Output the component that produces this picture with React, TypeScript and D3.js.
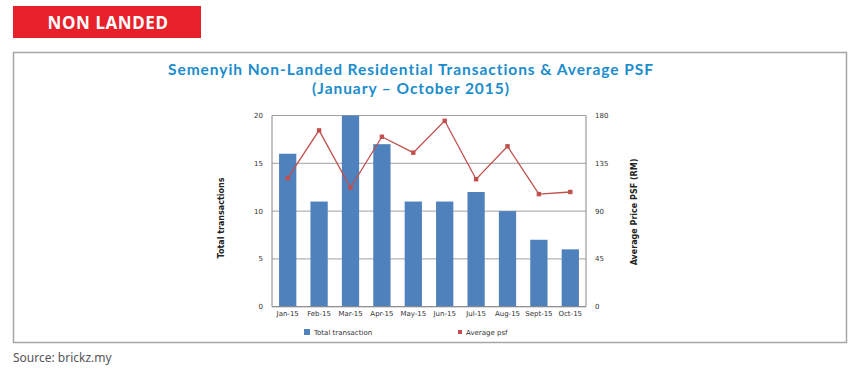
import React, { useEffect, useRef } from "react";
import * as d3 from "d3";

const months = ["Jan-15", "Feb-15", "Mar-15", "Apr-15", "May-15", "Jun-15", "Jul-15", "Aug-15", "Sept-15", "Oct-15"];
const transactions = [16, 11, 20, 17, 11, 11, 12, 10, 7, 6];
const avgPsf = [121, 166, 112, 160, 145, 175, 120, 151, 106, 108];
const leftTicks = [0, 5, 10, 15, 20];
const rightTicks = [0, 45, 90, 135, 180];

const W = 860;
const H = 370;
const plot = { left: 272, right: 586, top: 115.5, bottom: 306.7 };

export default function App() {
  const ref = useRef<SVGSVGElement>(null);

  useEffect(() => {
    const svg = d3.select(ref.current);
    svg.selectAll("*").remove();

    // banner
    svg.append("rect").attr("x", 13).attr("y", 6).attr("width", 188).attr("height", 32).attr("fill", "#e8202a");
    svg.append("text")
      .attr("x", 108).attr("y", 29)
      .attr("text-anchor", "middle")
      .attr("fill", "#fff")
      .style("font", "bold 17px 'Noto Sans', sans-serif")
      .style("letter-spacing", "0.6px")
      .text("NON LANDED");

    // chart frame
    svg.append("rect")
      .attr("x", 13.5).attr("y", 52.5).attr("width", 833).attr("height", 290)
      .attr("fill", "#fff").attr("stroke", "#a6a6a6").attr("stroke-width", 1.5);

    const titleStyle = "bold 15.5px Lato, 'Noto Sans', sans-serif";
    svg.append("text")
      .attr("x", 411).attr("y", 75)
      .attr("text-anchor", "middle")
      .attr("fill", "#1b8ccc")
      .style("font", titleStyle)
      .style("letter-spacing", "0.95px")
      .text("Semenyih Non-Landed Residential Transactions & Average PSF");
    svg.append("text")
      .attr("x", 411).attr("y", 94)
      .attr("text-anchor", "middle")
      .attr("fill", "#1b8ccc")
      .style("font", titleStyle)
      .style("letter-spacing", "0.95px")
      .text("(January \u2013 October 2015)");

    const x = d3.scaleBand().domain(months).range([plot.left, plot.right]).paddingInner(0.45).paddingOuter(0.225);
    const yL = d3.scaleLinear().domain([0, 20]).range([plot.bottom, plot.top]);
    const yR = d3.scaleLinear().domain([0, 180]).range([plot.bottom, plot.top]);

    const g = svg.append("g");

    // gridlines
    g.selectAll("line.grid")
      .data(leftTicks)
      .join("line")
      .attr("class", "grid")
      .attr("x1", plot.left).attr("x2", plot.right)
      .attr("y1", d => yL(d)).attr("y2", d => yL(d))
      .attr("stroke", "#a0a0a0").attr("stroke-width", 1);

    // bars
    g.selectAll("rect.bar")
      .data(transactions)
      .join("rect")
      .attr("class", "bar")
      .attr("x", (d, i) => x(months[i])!)
      .attr("width", x.bandwidth())
      .attr("y", d => yL(d))
      .attr("height", d => plot.bottom - yL(d))
      .attr("fill", "#4f81bd");

    // axes lines
    g.append("line").attr("x1", plot.left).attr("x2", plot.left).attr("y1", plot.top).attr("y2", plot.bottom).attr("stroke", "#888");
    g.append("line").attr("x1", plot.right).attr("x2", plot.right).attr("y1", plot.top).attr("y2", plot.bottom).attr("stroke", "#888");
    g.append("line").attr("x1", plot.left).attr("x2", plot.right).attr("y1", plot.bottom).attr("y2", plot.bottom).attr("stroke", "#888");

    const small = "7px 'DejaVu Sans', Verdana, sans-serif";

    g.selectAll("text.yl")
      .data(leftTicks)
      .join("text")
      .attr("class", "yl")
      .attr("x", 263).attr("y", d => yL(d) + 2.5)
      .attr("text-anchor", "end")
      .attr("fill", "#333")
      .style("font", small)
      .text(d => d);

    g.selectAll("text.yr")
      .data(rightTicks)
      .join("text")
      .attr("class", "yr")
      .attr("x", 595).attr("y", d => yR(d) + 2.5)
      .attr("text-anchor", "start")
      .attr("fill", "#333")
      .style("font", small)
      .text(d => d);

    g.selectAll("text.xl")
      .data(months)
      .join("text")
      .attr("class", "xl")
      .attr("x", d => x(d)! + x.bandwidth() / 2)
      .attr("y", 316)
      .attr("text-anchor", "middle")
      .attr("fill", "#333")
      .style("font", small)
      .text(d => d);

    // line
    const cx = (i: number) => x(months[i])! + x.bandwidth() / 2;
    const line = d3.line<number>().x((d, i) => cx(i)).y(d => yR(d));
    g.append("path").datum(avgPsf).attr("d", line).attr("fill", "none").attr("stroke", "#c0504d").attr("stroke-width", 1.3);
    g.selectAll("rect.mk")
      .data(avgPsf)
      .join("rect")
      .attr("class", "mk")
      .attr("x", (d, i) => cx(i) - 2.2)
      .attr("y", d => yR(d) - 2.2)
      .attr("width", 4.4).attr("height", 4.4)
      .attr("fill", "#c0504d");

    // axis titles
    const bold = "bold 8px 'DejaVu Sans', Verdana, sans-serif";
    g.append("text")
      .attr("transform", `translate(224,218) rotate(-90)`)
      .attr("text-anchor", "middle")
      .attr("fill", "#222")
      .style("font", bold)
      .text("Total transactions");
    g.append("text")
      .attr("transform", `translate(637,212) rotate(-90)`)
      .attr("text-anchor", "middle")
      .attr("fill", "#222")
      .style("font", bold)
      .text("Average Price  PSF (RM)");

    // legend
    g.append("rect").attr("x", 304).attr("y", 329).attr("width", 6).attr("height", 6).attr("fill", "#4f81bd");
    g.append("text").attr("x", 314).attr("y", 335).attr("fill", "#333").style("font", small).text("Total transaction");
    g.append("rect").attr("x", 458).attr("y", 330).attr("width", 4).attr("height", 4).attr("fill", "#c0504d");
    g.append("text").attr("x", 466).attr("y", 335).attr("fill", "#333").style("font", small).text("Average psf");

    // source
    svg.append("text")
      .attr("x", 13).attr("y", 362)
      .attr("fill", "#555")
      .style("font", "12px 'Noto Sans', sans-serif")
      .text("Source: brickz.my");
  }, []);

  return (
    <div style={{ position: "absolute", left: 0, top: 0 }}>
      <svg ref={ref} width={W} height={H} style={{ display: "block", background: "#fff" }} />
    </div>
  );
}
